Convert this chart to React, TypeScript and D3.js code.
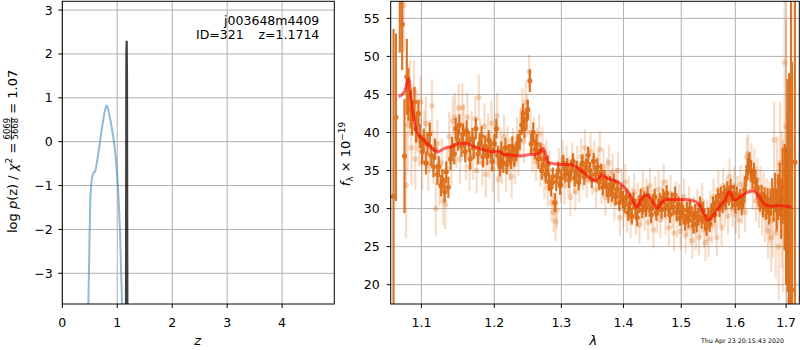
import * as d3 from 'd3';
import React from 'react';

// redshift probability curve
const zGrid = [0.465, 0.474, 0.492, 0.51, 0.535, 0.565, 0.596, 0.656, 0.717, 0.778, 0.808, 0.857, 0.917, 0.978, 1.02, 1.051, 1.087, 1.1];
const logPz = [-4.5, -3.7, -2.47, -1.33, -0.87, -0.72, -0.68, -0.26, 0.27, 0.72, 0.83, 0.61, 0.19, -0.42, -1.18, -2.09, -3.7, -4.4];
const zPeak = [1.158, 1.166, 1.1714, 1.177, 1.185];
const logPzPeak = [-4.5, 2.0, 2.3, 1.5, -4.5];

const zTicks = [0, 1, 2, 3, 4];
const pzTicks = [-3, -2, -1, 0, 1, 2, 3];
const waveTicks = [1.1, 1.2, 1.3, 1.4, 1.5, 1.6, 1.7];
const fluxTicks = [20, 25, 30, 35, 40, 45, 50, 55];

// best-fit template
const modelWave = [1.0705, 1.0778, 1.0833, 1.0877, 1.0932, 1.1028, 1.1121, 1.1214, 1.1306, 1.1422, 1.1514, 1.1607, 1.1722, 1.1839, 1.1954, 1.205, 1.2148, 1.2273, 1.2396, 1.2519, 1.2619, 1.2693, 1.2727, 1.2792, 1.289, 1.299, 1.3123, 1.3232, 1.3367, 1.3529, 1.3584, 1.3638, 1.3747, 1.3909, 1.4017, 1.4134, 1.4221, 1.4308, 1.4395, 1.4483, 1.457, 1.4657, 1.4744, 1.4889, 1.5037, 1.5191, 1.5315, 1.5407, 1.5481, 1.5561, 1.5715, 1.5807, 1.5881, 1.5993, 1.6088, 1.6249, 1.6344, 1.647, 1.6566, 1.6694, 1.6853, 1.6981, 1.7109];
const modelFlux = [44.7, 45.3, 47.1, 43.4, 40.3, 39.0, 38.1, 37.45, 37.9, 38.2, 38.6, 38.55, 38.1, 37.76, 37.45, 37.54, 37.1, 37.0, 36.9, 37.1, 37.1, 37.7, 37.9, 36.1, 35.9, 35.8, 35.8, 35.5, 34.6, 33.7, 33.95, 34.4, 33.95, 33.5, 32.8, 31.5, 30.2, 31.3, 31.75, 31.1, 30.0, 30.87, 31.2, 31.2, 31.2, 31.1, 30.6, 29.55, 28.46, 28.9, 30.4, 31.1, 32.2, 31.1, 31.5, 32.2, 32.3, 31.5, 30.57, 30.3, 30.4, 30.35, 30.13];

// binned spectrum [wave, flux, err]
const binned: number[][] = [
  [1.064, 31.6, 22], [1.067, 42.0, 11], [1.072, 57.5, 7], [1.075, 54.2, 6], [1.078, 36.9, 7.5], [1.081, 47.3, 5],
  [1.083, 45.0, 3.5], [1.086, 43.0, 2.5], [1.088, 41.8, 2.2], [1.091, 44.0, 2], [1.093, 40.5, 1.8], [1.096, 42.5, 1.8],
  [1.098, 39.5, 1.6], [1.101, 37.5, 1.6], [1.103, 39.0, 1.5], [1.106, 36.0, 1.5], [1.108, 38.5, 1.5], [1.111, 39.8, 1.5],
  [1.113, 37.0, 1.4], [1.116, 35.5, 1.4], [1.118, 37.8, 1.4], [1.121, 34.5, 1.4], [1.123, 35.5, 1.4], [1.126, 33.0, 1.4],
  [1.128, 33.8, 1.4], [1.131, 32.2, 1.4], [1.133, 34.8, 1.4], [1.136, 32.8, 1.4], [1.139, 36.5, 1.4], [1.141, 38.0, 1.4],
  [1.144, 37.2, 1.4], [1.146, 40.5, 1.4], [1.149, 39.0, 1.4], [1.151, 41.0, 1.4], [1.154, 38.2, 1.4], [1.156, 39.8, 1.4],
  [1.159, 37.5, 1.4], [1.161, 40.2, 1.4], [1.164, 38.8, 1.4], [1.166, 36.5, 1.4], [1.169, 39.2, 1.4], [1.171, 38.0, 1.4],
  [1.174, 40.5, 1.4], [1.177, 37.2, 1.4], [1.179, 38.5, 1.4], [1.182, 39.5, 1.4], [1.184, 36.8, 1.4], [1.187, 38.2, 1.4],
  [1.19, 37.0, 1.3], [1.192, 39.0, 1.3], [1.195, 37.8, 1.3], [1.197, 36.2, 1.3], [1.2, 38.5, 1.3], [1.203, 40.5, 1.3],
  [1.205, 37.0, 1.3], [1.208, 35.5, 1.3], [1.21, 37.5, 1.3], [1.213, 36.0, 1.3], [1.216, 38.0, 1.3], [1.218, 35.8, 1.3],
  [1.221, 37.2, 1.3], [1.224, 36.5, 1.3], [1.226, 38.2, 1.3], [1.229, 36.8, 1.3], [1.232, 37.5, 1.3], [1.234, 38.5, 1.3],
  [1.237, 39.0, 1.3], [1.24, 41.0, 1.3], [1.242, 42.5, 1.3], [1.244, 40.5, 1.3], [1.247, 41.8, 1.3], [1.249, 43.0, 1.3],
  [1.252, 46.8, 1.5], [1.254, 38.5, 1.3], [1.257, 40.0, 1.3], [1.26, 37.8, 1.3], [1.262, 38.5, 1.3], [1.265, 36.5, 1.3],
  [1.268, 37.5, 1.2], [1.27, 35.0, 1.2], [1.273, 36.5, 1.2], [1.276, 34.5, 1.2], [1.279, 35.8, 1.2], [1.281, 33.5, 1.2],
  [1.284, 32.8, 1.2], [1.287, 34.2, 1.2], [1.29, 30.8, 1.2], [1.292, 33.5, 1.2], [1.295, 35.0, 1.2], [1.298, 33.0, 1.2],
  [1.3, 34.0, 1.1], [1.303, 36.0, 1.1], [1.306, 34.5, 1.1], [1.309, 35.5, 1.1], [1.312, 33.8, 1.1], [1.315, 35.0, 1.1],
  [1.318, 36.2, 1.1], [1.321, 34.0, 1.1], [1.324, 35.2, 1.1], [1.327, 33.5, 1.1], [1.33, 34.8, 1.1], [1.333, 36.0, 1.1],
  [1.336, 34.2, 1.1], [1.339, 35.5, 1.1], [1.342, 37.0, 1.1], [1.345, 35.0, 1.1], [1.348, 33.8, 1.1], [1.351, 36.2, 1.1],
  [1.354, 34.5, 1.1], [1.357, 35.5, 1.1], [1.36, 33.5, 1.1], [1.363, 34.8, 1.1], [1.366, 32.8, 1.1], [1.369, 34.0, 1.1],
  [1.372, 33.0, 1.1], [1.375, 31.8, 1.1], [1.378, 33.2, 1.1], [1.381, 32.0, 1.1], [1.384, 33.5, 1.1], [1.387, 31.5, 1.1],
  [1.39, 32.5, 1.1], [1.393, 30.8, 1.1], [1.396, 32.0, 1.1], [1.399, 31.2, 1.1], [1.402, 30.5, 1.1], [1.405, 31.5, 1.1],
  [1.408, 29.5, 1.1], [1.411, 30.8, 1.1], [1.414, 29.0, 1.1], [1.417, 31.0, 1.1], [1.42, 30.2, 1.1], [1.423, 28.8, 1.1],
  [1.426, 30.5, 1.1], [1.429, 31.5, 1.1], [1.432, 29.8, 1.1], [1.435, 31.2, 1.1], [1.438, 30.0, 1.1], [1.441, 31.8, 1.1],
  [1.444, 30.5, 1.1], [1.447, 29.2, 1.1], [1.45, 30.8, 1.1], [1.453, 31.5, 1.1], [1.456, 29.5, 1.1], [1.459, 30.2, 1.1],
  [1.462, 31.0, 1.1], [1.465, 29.8, 1.1], [1.468, 31.5, 1.1], [1.471, 30.0, 1.1], [1.474, 32.0, 1.1], [1.477, 30.5, 1.1],
  [1.48, 29.2, 1.1], [1.483, 31.0, 1.1], [1.486, 30.2, 1.1], [1.489, 31.8, 1.1], [1.492, 29.5, 1.1], [1.495, 30.5, 1.1],
  [1.498, 28.8, 1.1], [1.501, 30.2, 1.1], [1.504, 29.0, 1.1], [1.507, 28.2, 1.1], [1.51, 29.8, 1.1], [1.513, 28.5, 1.1],
  [1.516, 30.0, 1.1], [1.519, 29.2, 1.1], [1.522, 27.8, 1.1], [1.525, 29.5, 1.1], [1.528, 28.0, 1.1], [1.531, 29.0, 1.1],
  [1.534, 30.5, 1.1], [1.537, 28.5, 1.1], [1.54, 29.8, 1.1], [1.543, 28.2, 1.1], [1.546, 27.5, 1.1], [1.549, 29.0, 1.1],
  [1.552, 28.0, 1.1], [1.555, 29.5, 1.1], [1.558, 30.5, 1.1], [1.561, 29.2, 1.1], [1.564, 30.8, 1.1], [1.567, 31.5, 1.1],
  [1.57, 30.0, 1.1], [1.573, 31.8, 1.1], [1.576, 30.5, 1.1], [1.579, 32.0, 1.1], [1.582, 31.0, 1.1], [1.585, 32.5, 1.1],
  [1.588, 31.5, 1.1], [1.591, 32.8, 1.1], [1.594, 31.2, 1.1], [1.597, 32.0, 1.1], [1.6, 30.5, 1.1], [1.603, 31.8, 1.1],
  [1.606, 30.8, 1.1], [1.609, 31.5, 1.1], [1.612, 30.2, 1.1], [1.615, 31.0, 1.1], [1.618, 32.5, 1.2], [1.621, 34.0, 1.2],
  [1.624, 35.5, 1.2], [1.627, 36.2, 1.2], [1.63, 35.0, 1.2], [1.633, 33.8, 1.2], [1.636, 34.8, 1.2], [1.639, 33.5, 1.2],
  [1.642, 32.8, 1.2], [1.645, 31.5, 1.2], [1.648, 30.8, 1.2], [1.651, 31.8, 1.3], [1.654, 30.2, 1.3], [1.657, 31.5, 1.3],
  [1.66, 30.0, 1.4], [1.663, 31.2, 1.5], [1.666, 29.5, 1.6], [1.669, 30.8, 1.8], [1.672, 32.0, 2], [1.675, 30.5, 2.2],
  [1.678, 32.2, 2.5], [1.681, 29.8, 2.8], [1.684, 31.5, 3], [1.687, 32.5, 3.5], [1.69, 30.0, 4], [1.693, 33.0, 5],
  [1.697, 31.5, 7], [1.7, 29.0, 9], [1.703, 33.0, 14], [1.706, 22.8, 25], [1.71, 30.0, 30], [1.712, 19.3, 30], [1.718, 36.1, 40],
];

// individual pixels [wave, flux, err]
const pixels: number[][] = [
  [1.077, 56.7, 6], [1.08, 33.1, 7], [1.082, 41.0, 6], [1.085, 44.5, 5], [1.087, 38.0, 5], [1.09, 45.5, 4],
  [1.092, 36.5, 4], [1.094, 41.5, 4], [1.097, 39.0, 3.5], [1.099, 44.0, 3.5], [1.101, 36.0, 3.5], [1.104, 39.5, 3.5],
  [1.106, 41.2, 3.5], [1.109, 35.8, 3.5], [1.111, 38.2, 3.5], [1.114, 43.5, 3.5], [1.116, 36.8, 3.5], [1.119, 30.0, 3.5],
  [1.121, 38.5, 3.2], [1.124, 33.5, 3.2], [1.127, 36.0, 3.2], [1.129, 31.0, 3.2], [1.132, 30.5, 3.2], [1.134, 35.2, 3.2],
  [1.137, 39.5, 3.2], [1.14, 36.2, 3.2], [1.142, 41.5, 3.2], [1.145, 42.0, 3.2], [1.147, 38.5, 3.2], [1.15, 43.2, 3.2],
  [1.152, 36.5, 3.2], [1.155, 43.3, 3.2], [1.157, 40.5, 3.2], [1.16, 37.0, 3.2], [1.162, 42.0, 3.2], [1.165, 35.5, 3.2],
  [1.168, 39.8, 3], [1.17, 36.8, 3], [1.173, 41.8, 3], [1.175, 35.0, 3], [1.178, 44.6, 3], [1.18, 38.8, 3],
  [1.183, 36.0, 3], [1.186, 40.8, 3], [1.188, 34.5, 3], [1.191, 39.5, 3], [1.193, 37.0, 3], [1.196, 41.2, 3],
  [1.198, 35.2, 3], [1.201, 38.8, 3], [1.204, 42.2, 3], [1.206, 33.8, 3], [1.209, 37.8, 3], [1.211, 36.2, 3],
  [1.214, 39.5, 2.8], [1.217, 35.0, 2.8], [1.219, 38.0, 2.8], [1.222, 36.5, 2.8], [1.225, 34.2, 2.8], [1.227, 37.8, 2.8],
  [1.23, 36.0, 2.8], [1.233, 39.2, 2.8], [1.235, 37.0, 2.8], [1.238, 40.2, 2.8], [1.241, 43.0, 2.8], [1.243, 38.8, 2.8],
  [1.246, 44.0, 2.8], [1.248, 42.2, 2.8], [1.251, 48.0, 2.2], [1.253, 40.0, 2.8], [1.256, 37.5, 2.8], [1.258, 39.2, 2.8],
  [1.261, 36.2, 2.6], [1.263, 38.0, 2.6], [1.266, 39.8, 2.6], [1.268, 35.5, 2.6], [1.271, 38.2, 2.6], [1.274, 34.0, 2.6],
  [1.277, 36.5, 2.6], [1.279, 32.8, 2.6], [1.282, 35.0, 2.6], [1.285, 30.8, 2.6], [1.288, 29.5, 2.6], [1.291, 28.3, 2.6],
  [1.293, 29.8, 2.5], [1.296, 35.5, 2.5], [1.299, 33.2, 2.5], [1.302, 36.5, 2.5], [1.305, 33.0, 2.5], [1.308, 35.8, 2.5],
  [1.311, 34.2, 2.5], [1.314, 31.5, 2.5], [1.317, 36.2, 2.5], [1.32, 34.5, 2.5], [1.322, 32.2, 2.5], [1.325, 35.8, 2.5],
  [1.328, 33.2, 2.4], [1.331, 36.8, 2.4], [1.334, 34.8, 2.4], [1.337, 38.0, 2.4], [1.34, 33.8, 2.4], [1.343, 35.8, 2.4],
  [1.346, 37.5, 2.4], [1.349, 34.2, 2.4], [1.352, 36.5, 2.4], [1.355, 32.5, 2.4], [1.358, 35.2, 2.4], [1.361, 37.8, 2.4],
  [1.364, 33.0, 2.4], [1.367, 35.5, 2.4], [1.37, 31.5, 2.4], [1.373, 34.2, 2.4], [1.376, 36.0, 2.4], [1.379, 32.5, 2.4],
  [1.382, 34.8, 2.4], [1.385, 30.8, 2.4], [1.388, 33.0, 2.4], [1.391, 35.0, 2.4], [1.394, 28.8, 2.4], [1.397, 32.8, 2.4],
  [1.4, 30.0, 2.4], [1.403, 33.5, 2.4], [1.406, 29.2, 2.4], [1.409, 31.8, 2.4], [1.412, 28.5, 2.4], [1.415, 30.5, 2.4],
  [1.418, 32.2, 2.4], [1.421, 29.0, 2.4], [1.424, 31.0, 2.4], [1.427, 27.8, 2.4], [1.43, 30.2, 2.4], [1.433, 32.5, 2.4],
  [1.436, 29.5, 2.4], [1.439, 31.5, 2.4], [1.442, 28.2, 2.4], [1.445, 33.0, 2.4], [1.448, 30.0, 2.4], [1.451, 27.2, 2.4],
  [1.454, 31.8, 2.4], [1.457, 29.2, 2.4], [1.46, 32.5, 2.4], [1.463, 28.5, 2.4], [1.466, 30.8, 2.4], [1.469, 33.5, 2.4],
  [1.472, 29.0, 2.4], [1.475, 31.5, 2.4], [1.478, 27.5, 2.4], [1.481, 32.0, 2.4], [1.484, 29.8, 2.4], [1.487, 26.8, 2.4],
  [1.49, 31.2, 2.4], [1.493, 28.5, 2.4], [1.496, 30.8, 2.4], [1.499, 27.0, 2.4], [1.502, 29.5, 2.4], [1.505, 31.5, 2.4],
  [1.508, 26.5, 2.4], [1.511, 28.8, 2.4], [1.514, 30.5, 2.4], [1.517, 27.5, 2.4], [1.52, 25.8, 2.4], [1.523, 29.2, 2.4],
  [1.526, 27.0, 2.4], [1.529, 30.2, 2.4], [1.532, 26.2, 2.4], [1.535, 28.5, 2.4], [1.538, 31.0, 2.4], [1.541, 27.2, 2.4],
  [1.544, 25.5, 2.4], [1.547, 28.8, 2.4], [1.55, 26.0, 2.4], [1.553, 30.0, 2.4], [1.556, 27.8, 2.4], [1.559, 31.5, 2.4],
  [1.562, 29.0, 2.4], [1.565, 26.2, 2.4], [1.568, 32.5, 2.4], [1.571, 30.2, 2.4], [1.574, 27.5, 2.4], [1.577, 33.0, 2.4],
  [1.58, 30.0, 2.4], [1.583, 31.8, 2.4], [1.586, 29.0, 2.4], [1.589, 34.2, 2.4], [1.592, 31.5, 2.4], [1.595, 30.0, 2.4],
  [1.598, 33.0, 2.5], [1.601, 29.2, 2.5], [1.604, 31.8, 2.5], [1.607, 28.5, 2.5], [1.61, 33.2, 2.5], [1.613, 30.5, 2.5],
  [1.616, 32.0, 2.6], [1.619, 29.5, 2.6], [1.622, 36.8, 2.6], [1.625, 37.2, 2.6], [1.628, 34.5, 2.6], [1.631, 36.0, 2.6],
  [1.634, 32.5, 2.7], [1.637, 35.2, 2.7], [1.64, 31.0, 2.7], [1.643, 33.8, 2.8], [1.646, 30.2, 2.8], [1.649, 32.8, 2.8],
  [1.652, 29.5, 3], [1.655, 31.8, 3], [1.658, 28.8, 3.2], [1.661, 30.5, 3.4], [1.664, 27.0, 3.6], [1.667, 29.5, 4],
  [1.67, 26.2, 4.5], [1.673, 28.5, 5], [1.676, 39.0, 5], [1.679, 26.8, 6], [1.682, 33.5, 6], [1.685, 25.0, 7],
  [1.688, 36.0, 8], [1.691, 31.2, 9], [1.694, 29.0, 10], [1.697, 49.2, 12], [1.7, 40.8, 14], [1.703, 26.5, 16], [1.706, 18.0, 20],
];

const ORANGE = '#d95f02';
const GRID = '#b0b0b0';
const FONT = 'DejaVu Sans, sans-serif';

const zX = d3.scaleLinear().domain([0, 4.95]).range([62.3, 334.3]);
const zY = d3.scaleLinear().domain([-3.7, 3.2]).range([304, 1.3]);
const wX = d3.scaleLog().domain([1.0604, 1.727]).range([390.7, 799.3]);
const fY = d3.scaleLinear().domain([17.46, 57.24]).range([304, 1.3]);

const fmt = (v: number) => (v < 0 ? '\u2212' : '') + Math.abs(v);

function App() {
  const pzLine = d3.line<number>()
    .curve(d3.curveMonotoneX)
    .x((d, i) => zX(zGrid[i]))
    .y((d) => zY(d));
  const peakLine = d3.line<number>()
    .x((d, i) => zX(zPeak[i]))
    .y((d) => zY(d));
  const modelLine = d3.line<number>()
    .curve(d3.curveMonotoneX)
    .x((d, i) => wX(modelWave[i]))
    .y((d) => fY(d));

  const [l0, l1] = zX.range();
  const [t0, b0] = [zY.range()[1], zY.range()[0]];
  const [r0, r1] = wX.range();

  return (
    <svg width={800} height={350} style={{ position: 'absolute', left: 0, top: 0, background: '#fff' }} fontFamily={FONT}>
      <defs>
        <clipPath id="clipL"><rect x={l0} y={t0} width={l1 - l0} height={b0 - t0} /></clipPath>
        <clipPath id="clipR"><rect x={r0} y={t0} width={r1 - r0} height={b0 - t0} /></clipPath>
      </defs>

      {/* left panel */}
      <g>
        {zTicks.map((t) => (
          <g key={'zx' + t}>
            <line x1={zX(t)} x2={zX(t)} y1={t0} y2={b0} stroke={GRID} strokeWidth={1} />
            <line x1={zX(t)} x2={zX(t)} y1={b0} y2={b0 + 4} stroke="#000" strokeWidth={1} />
            <text x={zX(t)} y={327} fontSize={12.5} textAnchor="middle">{fmt(t)}</text>
          </g>
        ))}
        {pzTicks.map((t) => (
          <g key={'zy' + t}>
            <line x1={l0} x2={l1} y1={zY(t)} y2={zY(t)} stroke={GRID} strokeWidth={1} />
            <line x1={l0 - 4} x2={l0} y1={zY(t)} y2={zY(t)} stroke="#000" strokeWidth={1} />
            <text x={l0 - 9.5} y={zY(t) + 4.5} fontSize={12.5} textAnchor="end">{fmt(t)}</text>
          </g>
        ))}
        <g clipPath="url(#clipL)">
          <path d={pzLine(logPz) || ''} fill="none" stroke="#1f77b4" strokeOpacity={0.5} strokeWidth={2} />
          <path d={peakLine(logPzPeak) || ''} fill="none" stroke="#000" strokeOpacity={0.75} strokeWidth={2.2} />
        </g>
        <rect x={l0} y={t0} width={l1 - l0} height={b0 - t0} fill="none" stroke="#000" strokeWidth={1} />
        <text x={319.3} y={24.5} fontSize={12.5} textAnchor="end">j003648m4409</text>
        <text x={196} y={39} fontSize={12.5}>ID=321</text>
        <text x={319.3} y={39} fontSize={12.5} textAnchor="end">z=1.1714</text>
        <text x={197.7} y={345} fontSize={13} fontStyle="italic" textAnchor="middle">z</text>
        <g transform="translate(17,152.7) rotate(-90)" fontSize={13}>
          <text x={10} y={0} textAnchor="end">
            log <tspan fontStyle="italic">p</tspan>(z) / <tspan fontStyle="italic">χ</tspan>
            <tspan fontSize={9} dy={-5}>2</tspan><tspan dy={5}> =</tspan>
          </text>
          <text x={24} y={-7} fontSize={8.5} textAnchor="middle">6069</text>
          <line x1={12.5} x2={35.5} y1={-5.6} y2={-5.6} stroke="#000" strokeWidth={0.8} />
          <text x={24} y={1.3} fontSize={8.5} textAnchor="middle">5668</text>
          <text x={39} y={0}>= 1.07</text>
        </g>
      </g>

      {/* right panel */}
      <g>
        {waveTicks.map((t) => (
          <g key={'wx' + t}>
            <line x1={wX(t)} x2={wX(t)} y1={t0} y2={b0} stroke={GRID} strokeWidth={1} />
            <line x1={wX(t)} x2={wX(t)} y1={b0} y2={b0 + 4} stroke="#000" strokeWidth={1} />
            <text x={wX(t)} y={327} fontSize={12.5} textAnchor="middle">{t.toFixed(1)}</text>
          </g>
        ))}
        {fluxTicks.map((t) => (
          <g key={'fy' + t}>
            <line x1={r0} x2={r1} y1={fY(t)} y2={fY(t)} stroke={GRID} strokeWidth={1} />
            <line x1={r0 - 4} x2={r0} y1={fY(t)} y2={fY(t)} stroke="#000" strokeWidth={1} />
            <text x={r0 - 11} y={fY(t) + 4.5} fontSize={12.5} textAnchor="end">{t}</text>
          </g>
        ))}
        <g clipPath="url(#clipR)">
          {pixels.map((p, i) => (
            <line key={'pe' + i} x1={wX(p[0])} x2={wX(p[0])} y1={fY(p[1] - p[2])} y2={fY(p[1] + p[2])} stroke={ORANGE} strokeOpacity={0.22} strokeWidth={2.2} />
          ))}
          {pixels.map((p, i) => (
            <circle key={'pc' + i} cx={wX(p[0])} cy={fY(p[1])} r={2.8} fill={ORANGE} fillOpacity={0.25} />
          ))}
          <g opacity={0.85}>
            {binned.map((p, i) => (
              <line key={'be' + i} x1={wX(p[0])} x2={wX(p[0])} y1={fY(p[1] - p[2])} y2={fY(p[1] + p[2])} stroke={ORANGE} strokeWidth={2.2} />
            ))}
            {binned.map((p, i) => (
              <circle key={'bc' + i} cx={wX(p[0])} cy={fY(p[1])} r={2.6} fill={ORANGE} />
            ))}
          </g>
          <path d={modelLine(modelFlux) || ''} fill="none" stroke="red" strokeOpacity={0.6} strokeWidth={3} />
        </g>
        <rect x={r0} y={t0} width={r1 - r0} height={b0 - t0} fill="none" stroke="#000" strokeWidth={1} />
        <text x={593.3} y={345} fontSize={13} fontStyle="italic" textAnchor="middle">λ</text>
        <g transform="translate(350,154) rotate(-90)" fontSize={13}>
          <text x={0} y={0} textAnchor="middle">
            <tspan fontStyle="italic">f</tspan>
            <tspan fontSize={9} dy={3}>λ</tspan>
            <tspan dy={-3}> × 10</tspan>
            <tspan fontSize={9} dy={-5}>−19</tspan>
          </text>
        </g>
        <text x={742.5} y={343} fontSize={6.3} textAnchor="middle">Thu Apr 23 20:15:43 2020</text>
      </g>
    </svg>
  );
}

export default App;
